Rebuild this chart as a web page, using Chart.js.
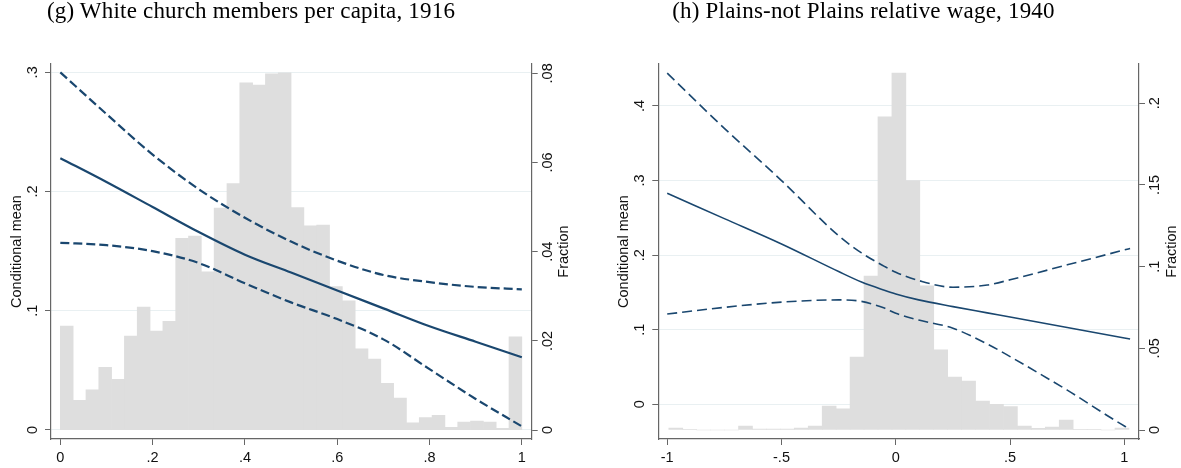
<!DOCTYPE html>
<html>
<head>
<meta charset="utf-8">
<title>Conditional mean with fraction histogram</title>
<script src="https://cdn.jsdelivr.net/npm/chart.js@4.4.1/dist/chart.umd.min.js"></script>
<style>
  html, body { margin: 0; padding: 0; background: #fff; }
  #page { position: relative; width: 1181px; height: 468px; overflow: hidden; }
  canvas { position: absolute; top: 0; }
  .ttl {
    position: absolute; top: 0;
    font: 23px 'Liberation Serif', 'Times New Roman', serif;
    letter-spacing: 0.2px;
    line-height: 22px; text-align: center; color: #000; white-space: nowrap;
  }
</style>
</head>
<body>
<div id="page">
  <canvas id="chartG" width="590" height="468" style="left:0"></canvas>
  <canvas id="chartH" width="591" height="468" style="left:590px"></canvas>
  <div class="ttl" style="left:0;width:502px">(g) White church members per capita, 1916</div>
  <div class="ttl" style="left:560px;width:607px">(h) Plains-not Plains relative wage, 1940</div>
</div>
<script>
'use strict';

/* ── PANEL (g): WHITE CHURCH MEMBERS PER CAPITA, 1916 ── */
const G_BIN_START = 0;
const G_BIN_WIDTH = 1 / 36;
const G_FRACTION = [
  0.0233, 0.0067, 0.0090, 0.0141, 0.0114, 0.0211, 0.0276, 0.0222, 0.0244,
  0.0430, 0.0435, 0.0355, 0.0498, 0.0553, 0.0779, 0.0774, 0.0799, 0.0801,
  0.0499, 0.0458, 0.0460, 0.0322, 0.0290, 0.0182, 0.0159, 0.0105, 0.0072,
  0.0016, 0.0028, 0.0033, 0.0006, 0.0018, 0.0020, 0.0018, 0.0004, 0.0209
];
const G_X     = [0, 0.1, 0.2, 0.3, 0.4, 0.5, 0.6, 0.7, 0.8, 0.9, 1.0];
const G_MEAN  = [0.228, 0.208, 0.187, 0.166, 0.147, 0.132, 0.117, 0.102, 0.087, 0.074, 0.061];
const G_UPPER = [0.300, 0.265, 0.231, 0.202, 0.178, 0.158, 0.142, 0.130, 0.124, 0.120, 0.118];
const G_LOWER = [0.157, 0.155, 0.150, 0.140, 0.123, 0.107, 0.093, 0.076, 0.051, 0.026, 0.003];
const G_XTICKS = [0, 0.2, 0.4, 0.6, 0.8, 1];
const G_YTICKS = [0, 0.1, 0.2, 0.3];
const G_FTICKS = [0, 0.02, 0.04, 0.06, 0.08];

/* ── PANEL (h): PLAINS-NOT PLAINS RELATIVE WAGE, 1940 ── */
const H_BIN_START = -0.993;
const H_BIN_WIDTH = 0.061;
const H_FRACTION = [
  0.0012, 0.0004, 0, 0, 0, 0.0024, 0.0006, 0.0006, 0.0006, 0.0012, 0.0024,
  0.0147, 0.0129, 0.0447, 0.0942, 0.1916, 0.2185, 0.1526, 0.0883, 0.0490,
  0.0324, 0.0300, 0.0177, 0.0157, 0.0143, 0.0024, 0.0010, 0.0018, 0.0061,
  0.0004, 0.0004, 0, 0.0012
];
const H_X     = [-1, -0.75, -0.5, -0.25, -0.15, -0.05, 0, 0.1, 0.25, 0.4, 0.5, 0.75, 1.0, 1.025];
const H_MEAN  = [0.283, 0.249, 0.215, 0.178, 0.164, 0.153, 0.148, 0.140, 0.131, 0.1226, 0.117, 0.103, 0.089, 0.0876];
const H_UPPER = [0.444, 0.370, 0.300, 0.226, 0.203, 0.185, 0.177, 0.166, 0.157, 0.160, 0.167, 0.187, 0.207, 0.209];
const H_LOWER = [0.121, 0.130, 0.137, 0.140, 0.138, 0.129, 0.122, 0.113, 0.102, 0.081, 0.064, 0.019, -0.029, -0.033];
const H_XTICKS = [-1, -0.5, 0, 0.5, 1];
const H_YTICKS = [0, 0.1, 0.2, 0.3, 0.4];
const H_FTICKS = [0, 0.05, 0.1, 0.15, 0.2];

/* ── STYLE ── */
const NAVY = '#1a476f';
const BAR_FILL = '#dedede';
const AXIS = '#666666';
const GRID = '#e9f0f2';
const TEXT = '#111111';
const FONT = { family: "'Liberation Sans', Arial, sans-serif", size: 14.5 };

function fmt(v) {
  return String(+Number(v).toFixed(3)).replace(/^(-?)0\./, '$1.');
}

function setTicks(values) {
  return s => { s.ticks = values.map(v => ({ value: v })); };
}

// draws the right axis title rotated like the left one (bottom-to-top)
function rightTitle(x) {
  return {
    id: 'rightTitle',
    afterDraw(chart) {
      const { ctx, chartArea } = chart;
      ctx.save();
      ctx.translate(x, (chartArea.top + chartArea.bottom) / 2);
      ctx.rotate(-Math.PI / 2);
      ctx.font = `${FONT.size}px ${FONT.family}`;
      ctx.fillStyle = TEXT;
      ctx.textAlign = 'center';
      ctx.textBaseline = 'middle';
      ctx.fillText('Fraction', 0, 0);
      ctx.restore();
    }
  };
}

function lineSet(xs, ys, width, dash) {
  return {
    type: 'line',
    data: xs.map((x, i) => ({ x: x, y: ys[i] })),
    borderColor: NAVY,
    borderWidth: width,
    borderDash: dash,
    pointRadius: 0,
    fill: false,
    cubicInterpolationMode: 'monotone',
    yAxisID: 'y',
    order: 1
  };
}

function makePanel(id, p) {
  const bars = p.fraction.map((f, i) => ({ x: p.binStart + (i + 0.5) * p.binWidth, y: f }));
  return new Chart(document.getElementById(id), {
    type: 'bar',
    data: {
      datasets: [
        lineSet(p.xs, p.mean, p.lw, []),
        lineSet(p.xs, p.upper, p.lw, p.dash),
        lineSet(p.xs, p.lower, p.lw, p.dash),
        {
          type: 'bar',
          data: bars,
          backgroundColor: BAR_FILL,
          borderWidth: 0,
          barPercentage: 1,
          categoryPercentage: 1,
          yAxisID: 'y2',
          order: 2
        }
      ]
    },
    options: {
      responsive: false,
      animation: false,
      devicePixelRatio: 1,
      layout: { padding: { top: 64, left: 0, right: 0, bottom: 0 } },
      plugins: { legend: { display: false }, tooltip: { enabled: false } },
      scales: {
        x: {
          type: 'linear', min: p.xMin, max: p.xMax, offset: false,
          afterBuildTicks: setTicks(p.xticks),
          afterFit: s => { s.height = 29; },
          grid: { drawOnChartArea: false, drawTicks: true, tickLength: 6, tickColor: AXIS, color: AXIS, offset: false },
          border: { display: true, color: AXIS, width: 1.2 },
          ticks: { callback: fmt, color: TEXT, font: FONT, padding: 4, maxRotation: 0, autoSkip: false }
        },
        y: {
          type: 'linear', position: 'left', min: p.yMin, max: p.yMax,
          afterBuildTicks: setTicks(p.yticks),
          afterFit: s => { s.width = p.leftW; },
          grid: { color: GRID, lineWidth: 1, drawTicks: true, tickLength: 6, tickColor: AXIS },
          border: { display: true, color: AXIS, width: 1.2 },
          ticks: { callback: fmt, color: TEXT, font: FONT, padding: 6, minRotation: 90, maxRotation: 90, crossAlign: 'center', autoSkip: false },
          title: { display: true, text: 'Conditional mean', color: TEXT, font: FONT, padding: { top: p.titlePad, bottom: 0 } }
        },
        y2: {
          type: 'linear', position: 'right', min: p.fMin, max: p.fMax,
          afterBuildTicks: setTicks(p.fticks),
          afterFit: s => { s.width = p.rightW; },
          grid: { drawOnChartArea: false, drawTicks: true, tickLength: 6, tickColor: AXIS, color: AXIS },
          border: { display: true, color: AXIS, width: 1.2 },
          ticks: { callback: fmt, color: TEXT, font: FONT, padding: p.rightPad, minRotation: 90, maxRotation: 90, crossAlign: 'center', autoSkip: false }
        }
      }
    },
    plugins: [rightTitle(p.fractionX)]
  });
}

makePanel('chartG', {
  binStart: G_BIN_START, binWidth: G_BIN_WIDTH, fraction: G_FRACTION,
  xs: G_X, mean: G_MEAN, upper: G_UPPER, lower: G_LOWER,
  xticks: G_XTICKS, yticks: G_YTICKS, fticks: G_FTICKS,
  xMin: -0.0202, xMax: 1.0214, yMin: -0.0076, yMax: 0.307, fMin: -0.002, fMax: 0.0821,
  leftW: 51, rightW: 58.3, titlePad: 7.8, rightPad: 0, fractionX: 564,
  lw: 2.2, dash: [9, 4]
});

makePanel('chartH', {
  binStart: H_BIN_START, binWidth: H_BIN_WIDTH, fraction: H_FRACTION,
  xs: H_X, mean: H_MEAN, upper: H_UPPER, lower: H_LOWER,
  xticks: H_XTICKS, yticks: H_YTICKS, fticks: H_FTICKS,
  xMin: -1.039, xMax: 1.064, yMin: -0.0465, yMax: 0.4563, fMin: -0.0055, fMax: 0.224,
  leftW: 68.3, rightW: 42, titlePad: 25.3, rightPad: 0, fractionX: 581.7,
  lw: 1.6, dash: [10, 5]
});
</script>
</body>
</html>
